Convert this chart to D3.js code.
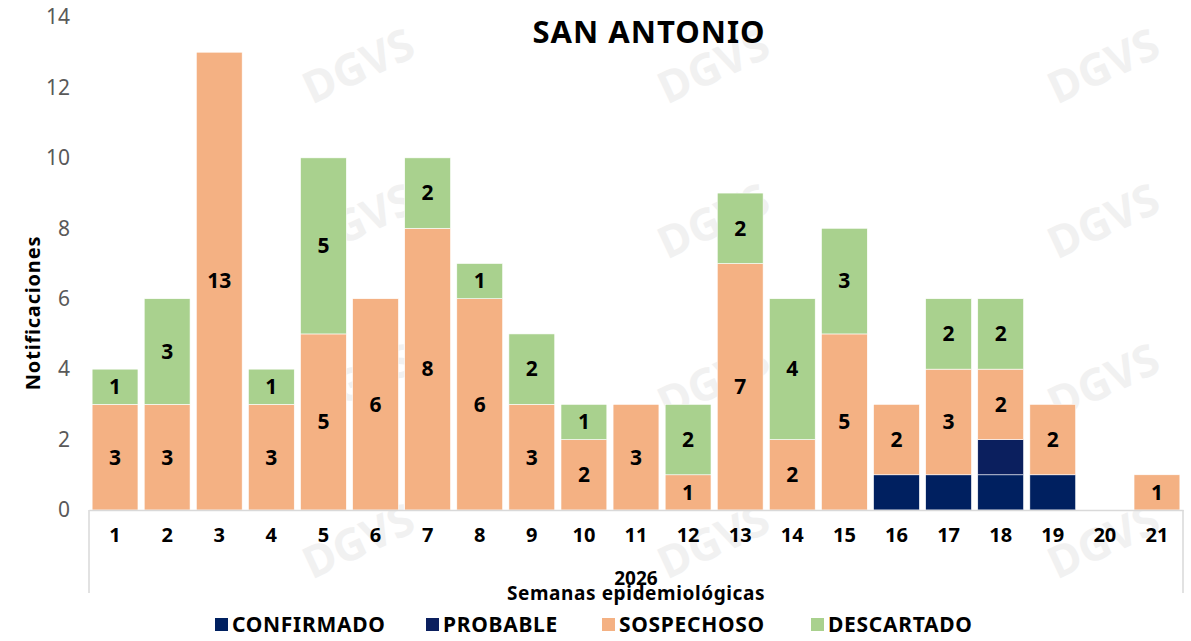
<!doctype html>
<html>
<head>
<meta charset="utf-8">
<script src="https://d3js.org/d3.v7.min.js"></script>
<style>
  body { margin: 0; background: #fff; }
  text { font-family: "Noto Sans", sans-serif; }
</style>
</head>
<body>
<svg width="1191" height="641"></svg>
<script>
// chart data
var weeks = ["1","2","3","4","5","6","7","8","9","10","11","12","13","14","15","16","17","18","19","20","21"];
var confirmado = [0,0,0,0,0,0,0,0,0,0,0,0,0,0,0,1,1,1,1,0,0];
var probable   = [0,0,0,0,0,0,0,0,0,0,0,0,0,0,0,0,0,1,0,0,0];
var sospechoso = [3,3,13,3,5,6,8,6,3,2,3,1,7,2,5,2,3,2,2,0,1];
var descartado = [1,3,0,1,5,0,2,1,2,1,0,2,2,4,3,0,2,2,0,0,0];
var yTicks = [0,2,4,6,8,10,12,14];

var seriesNames = ["CONFIRMADO","PROBABLE","SOSPECHOSO","DESCARTADO"];
var colors = ["#002060","#0b1f5e","#f4b183","#a9d18e"];
var labelSeries = {SOSPECHOSO: true, DESCARTADO: true};

var rows = weeks.map(function(w, i) {
  return {week: w, CONFIRMADO: confirmado[i], PROBABLE: probable[i], SOSPECHOSO: sospechoso[i], DESCARTADO: descartado[i]};
});

var svg = d3.select("svg");
var plotLeft = 89, plotRight = 1183, plotTop = 17, plotBottom = 510;

// faint watermark
var wm = svg.append("g").attr("fill", "#f1f1f1");
[365, 720, 1110].forEach(function(px) {
  [80, 235, 395, 555].forEach(function(py) {
    wm.append("text")
      .attr("transform", "translate(" + px + "," + py + ") rotate(-25)")
      .attr("text-anchor", "middle")
      .attr("font-size", 44).attr("font-weight", 700)
      .text("DGVS");
  });
});

var x = d3.scaleBand().domain(weeks).range([plotLeft, plotRight]).paddingInner(0.12).paddingOuter(0.06);
var y = d3.scaleLinear().domain([0, 14]).range([plotBottom, plotTop]);

var stack = d3.stack().keys(seriesNames)(rows);

var layers = svg.append("g").selectAll("g")
  .data(stack).enter().append("g")
  .attr("fill", function(d, i) { return colors[i]; });

layers.selectAll("rect")
  .data(function(d) { return d; })
  .enter().append("rect")
  .attr("x", function(d) { return x(d.data.week); })
  .attr("width", x.bandwidth())
  .attr("y", function(d) { return y(d[1]); })
  .attr("height", function(d) { return y(d[0]) - y(d[1]); })
  .attr("stroke", "#fff").attr("stroke-width", 0.6);

// value labels
stack.forEach(function(layer) {
  if (!labelSeries[layer.key]) return;
  svg.append("g").selectAll("text")
    .data(layer.filter(function(d) { return d[1] - d[0] > 0; }))
    .enter().append("text")
    .attr("x", function(d) { return x(d.data.week) + x.bandwidth() / 2; })
    .attr("y", function(d) { return y((d[0] + d[1]) / 2); })
    .attr("dy", "0.35em")
    .attr("text-anchor", "middle")
    .attr("font-size", 21).attr("font-weight", 700).attr("fill", "#000")
    .text(function(d) { return d[1] - d[0]; });
});

// y axis
var yAxis = svg.append("g")
  .attr("transform", "translate(" + 70 + ",0)")
  .call(d3.axisLeft(y).tickValues(yTicks).tickSize(0).tickPadding(0));
yAxis.select(".domain").remove();
yAxis.selectAll("text").attr("font-size", 21).attr("fill", "#595959")
  .style("font-family", "Noto Sans, sans-serif");

// x axis
var xAxis = svg.append("g")
  .attr("transform", "translate(0," + plotBottom + ")")
  .call(d3.axisBottom(x).tickSize(0).tickPadding(18));
xAxis.select(".domain").attr("stroke", "#d9d9d9").attr("stroke-width", 1.5);
xAxis.selectAll("text").attr("font-size", 20).attr("font-weight", 700).attr("fill", "#000")
  .style("font-family", "Noto Sans, sans-serif");

// category box sides
svg.append("g").attr("stroke", "#d9d9d9").attr("stroke-width", 1.5)
  .selectAll("line").data([plotLeft, plotRight]).enter().append("line")
  .attr("x1", function(d) { return d; }).attr("x2", function(d) { return d; })
  .attr("y1", plotBottom).attr("y2", 593);

svg.append("text").attr("x", 636).attr("y", 585).attr("text-anchor", "middle")
  .attr("font-size", 19).attr("font-weight", 700).attr("fill", "#000").text("2026");

svg.append("text").attr("x", 636).attr("y", 600).attr("text-anchor", "middle")
  .attr("font-size", 19).attr("font-weight", 700).attr("fill", "#000")
  .attr("letter-spacing", 0.6).text("Semanas epidemiológicas");

// y title
svg.append("text")
  .attr("transform", "translate(40,313) rotate(-90)")
  .attr("text-anchor", "middle")
  .attr("font-size", 20).attr("font-weight", 700).attr("fill", "#000")
  .attr("letter-spacing", 0.8)
  .text("Notificaciones");

// title
svg.append("text").attr("x", 649).attr("y", 43).attr("text-anchor", "middle")
  .attr("font-size", 31).attr("font-weight", 700).attr("fill", "#000")
  .attr("letter-spacing", 1).text("SAN ANTONIO");

// legend
var legendX = [215, 426, 602, 811];
var legend = svg.append("g").selectAll("g")
  .data(seriesNames).enter().append("g")
  .attr("transform", function(d, i) { return "translate(" + legendX[i] + ",625)"; });
legend.append("rect").attr("x", 0).attr("y", -7).attr("width", 13).attr("height", 13)
  .attr("fill", function(d, i) { return colors[i]; });
legend.append("text").attr("x", 17).attr("dy", "0.35em")
  .attr("font-size", 21).attr("font-weight", 700).attr("fill", "#000")
  .attr("letter-spacing", 0.7)
  .text(function(d) { return d; });
</script>
</body>
</html>
